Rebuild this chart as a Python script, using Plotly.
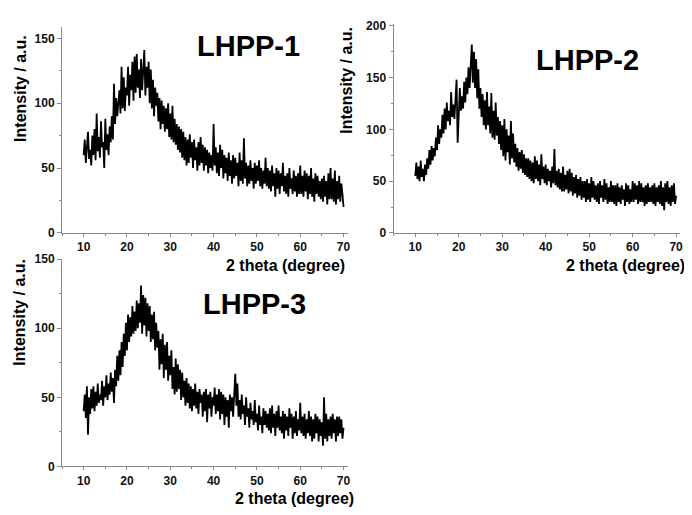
import numpy as np
import plotly.graph_objects as go

# 2-theta grid (degrees), step 0.25 from 10 to 70
two_theta = [round(10 + 0.25 * i, 2) for i in range(241)]

lhpp1 = [
    60, 72, 54, 66,  78, 57, 64, 52,  75, 60, 80, 56,  92, 63, 74, 58,  86, 66, 70, 50,
    88, 64, 76, 60,  82, 70, 90, 72,  115, 84, 104, 90,  98, 110, 92, 128,  96, 120, 94, 112,
    106, 128, 98, 122,  110, 132, 102, 136,  108, 138, 112, 126,  104, 134, 110, 130,  141, 106, 128, 112,
    132, 100, 126, 96,  118, 90, 112, 98,  108, 86, 104, 80,  102, 84, 98, 78,  96, 80, 100, 74,
    92, 72, 98, 70,  88, 68, 84, 64,  82, 62, 80, 58,  78, 56, 74, 52,  72, 54, 76, 58,
    70, 50, 72, 56,  66, 48, 70, 52,  74, 54, 68, 48,  66, 52, 64, 46,  62, 50, 60, 48,
    84, 52, 66, 46,  62, 44, 68, 50,  64, 42, 60, 46,  58, 40, 62, 44,  56, 38, 60, 42,
    58, 44, 54, 36,  62, 40, 56, 38,  73, 42, 54, 36,  52, 38, 56, 40,  50, 34, 54, 38,
    52, 40, 56, 36,  50, 34, 48, 38,  58, 36, 50, 34,  48, 32, 52, 36,  46, 28, 50, 34,
    48, 30, 46, 36,  54, 32, 44, 30,  46, 28, 50, 34,  42, 30, 48, 32,  44, 28, 46, 30,
    52, 30, 44, 28,  48, 32, 46, 26,  44, 30, 50, 28,  42, 24, 46, 30,  44, 28, 40, 26,
    42, 24, 44, 28,  40, 22, 46, 26,  50, 26, 42, 24,  48, 22, 40, 26,  44, 24, 38, 30,
    20,
]

lhpp2 = [
    55, 68, 52, 64,  50, 70, 54, 62,  50, 66, 56, 72,  62, 80, 66, 84,  70, 82, 74, 92,
    80, 104, 86, 100,  92, 114, 96, 120,  100, 126, 108, 118,  104, 136, 112, 124,  110, 132, 148, 87,
    112, 140, 118, 132,  120, 146, 126, 150,  134, 160, 140, 170,  182, 145, 175, 140,  168, 130, 158, 120,
    140, 112, 134, 104,  128, 100, 136, 104,  122, 96, 135, 92,  118, 90, 126, 94,  112, 86, 108, 80,
    104, 74, 110, 70,  100, 78, 94, 66,  108, 72, 96, 68,  86, 64, 82, 60,  78, 62, 80, 58,
    76, 56, 72, 54,  72, 52, 70, 50,  68, 48, 74, 52,  70, 50, 66, 46,  76, 52, 64, 48,
    66, 46, 62, 50,  60, 44, 64, 48,  81, 46, 60, 44,  62, 42, 58, 40,  64, 40, 56, 42,
    60, 38, 62, 40,  58, 36, 54, 38,  56, 34, 52, 36,  54, 32, 50, 34,  50, 30, 52, 32,
    48, 30, 54, 34,  50, 32, 46, 30,  48, 28, 50, 34,  46, 30, 52, 32,  48, 28, 44, 30,
    50, 30, 46, 28,  46, 26, 48, 30,  44, 28, 46, 32,  42, 26, 48, 30,  46, 28, 42, 30,
    50, 30, 48, 32,  46, 28, 50, 30,  48, 30, 44, 26,  46, 28, 48, 30,  44, 30, 46, 28,
    48, 26, 44, 30,  46, 28, 50, 26,  44, 22, 48, 30,  50, 28, 44, 26,  46, 30, 48, 28,
    36,
]

lhpp3 = [
    40, 52, 35, 58,  23, 50, 38, 56,  42, 58, 40, 54,  44, 60, 46, 52,  48, 62, 44, 58,
    50, 66, 48, 60,  52, 68, 54, 64,  46, 70, 58, 80,  62, 84, 66, 90,  72, 96, 80, 104,
    84, 110, 90, 108,  94, 116, 96, 112,  98, 120, 100, 118,  104, 131, 96, 124,  102, 122, 94, 118,
    98, 116, 90, 110,  92, 112, 84, 104,  86, 98, 70, 92,  74, 96, 64, 88,  70, 90, 62, 80,
    66, 84, 56, 72,  52, 78, 54, 74,  56, 70, 48, 68,  50, 62, 44, 64,  46, 60, 42, 58,
    40, 56, 44, 60,  42, 54, 38, 56,  46, 52, 36, 54,  40, 56, 32, 52,  42, 54, 36, 50,
    44, 57, 38, 52,  40, 56, 34, 54,  38, 52, 30, 50,  36, 48, 28, 52,  40, 50, 36, 54,
    67, 44, 60, 36,  48, 34, 52, 38,  44, 30, 50, 36,  42, 28, 46, 34,  40, 30, 48, 32,
    38, 26, 44, 30,  36, 24, 42, 30,  40, 28, 38, 26,  42, 24, 44, 28,  38, 22, 40, 28,
    44, 26, 36, 24,  40, 20, 38, 26,  36, 22, 42, 28,  38, 20, 36, 24,  40, 22, 34, 26,
    46, 24, 36, 22,  38, 20, 34, 24,  40, 22, 36, 18,  34, 20, 38, 24,  36, 18, 34, 22,
    32, 15, 50, 20,  38, 18, 34, 22,  36, 20, 38, 24,  34, 18, 36, 22,  36, 24, 34, 20,
    28,
]

sample_labels = ["LHPP-1", "LHPP-2", "LHPP-3"]
y_title = "Intensity / a.u."
x_title = "2 theta (degree)"

W, H = 692, 515
OFF = 8  # page offset of the figure (default body margin)
FONT = "Liberation Sans, Arial, sans-serif"
AXC = "#8a8a8a"

fig = go.Figure()
series = [lhpp1, lhpp2, lhpp3]
for i, ys in enumerate(series):
    suffix = "" if i == 0 else str(i + 1)
    fig.add_trace(go.Scatter(
        x=two_theta, y=ys, mode="lines",
        line=dict(color="black", width=1.8),
        xaxis="x" + suffix, yaxis="y" + suffix, showlegend=False,
        hoverinfo="skip",
    ))


def px_x(p):
    return (p - OFF) / W


def px_y(p):
    return 1 - (p - OFF) / H


def xaxis(domain, anchor):
    return dict(
        domain=domain, anchor=anchor, range=[5, 71],
        showline=True, linecolor=AXC, linewidth=1,
        ticks="outside", ticklen=3, tickcolor=AXC, tickwidth=1,
        dtick=10, tick0=0, showgrid=False, zeroline=False,
        minor=dict(ticks="outside", ticklen=2, dtick=5, tickcolor=AXC),
        tickfont=dict(family=FONT, size=12, color="#111", weight="bold"),
    )


def yaxis(domain, anchor, rng):
    return dict(
        domain=domain, anchor=anchor, range=rng,
        showline=True, linecolor=AXC, linewidth=1,
        ticks="outside", ticklen=4, tickcolor=AXC, tickwidth=1,
        dtick=50, tick0=0, showgrid=False, zeroline=False,
        minor=dict(ticks="outside", ticklen=2, dtick=25, tickcolor=AXC),
        tickfont=dict(family=FONT, size=12, color="#111", weight="bold"),
    )


fig.update_layout(
    width=W, height=H,
    margin=dict(l=0, r=0, t=0, b=0),
    paper_bgcolor="white", plot_bgcolor="white",
    xaxis=xaxis([px_x(62.25), px_x(349.35)], "y"),
    yaxis=yaxis([px_y(232), px_y(20)], "x", [0, 159]),
    xaxis2=xaxis([px_x(395.2), px_x(683.4)], "y2"),
    yaxis2=yaxis([px_y(232), px_y(17)], "x2", [0, 202]),
    xaxis3=xaxis([px_x(62.25), px_x(349.35)], "y3"),
    yaxis3=yaxis([px_y(472), px_y(259)], "x3", [0, 150]),
)

ann = []
# sample labels
for lab, (cx, cy) in zip(sample_labels, [(250, 40), (590, 54), (256, 305)]):
    ann.append(dict(text=lab, x=px_x(cx), y=px_y(cy), xref="paper", yref="paper",
                    xanchor="center", yanchor="middle", showarrow=False,
                    font=dict(family=FONT, size=29, color="black", weight="bold")))
# y titles
for (cx, cy) in [(21, 83), (348, 75), (20, 313)]:
    ann.append(dict(text=y_title, x=px_x(cx), y=px_y(cy), xref="paper", yref="paper",
                    xanchor="center", yanchor="middle", showarrow=False, textangle=-90,
                    font=dict(family=FONT, size=16, color="black", weight="bold")))
# x titles
for (cx, cy) in [(287, 265), (628, 265), (296, 505)]:
    ann.append(dict(text=x_title, x=px_x(cx), y=px_y(cy), xref="paper", yref="paper",
                    xanchor="center", yanchor="middle", showarrow=False,
                    font=dict(family=FONT, size=16, color="black", weight="bold")))
fig.update_layout(annotations=ann)

fig.write_html("out.html")
